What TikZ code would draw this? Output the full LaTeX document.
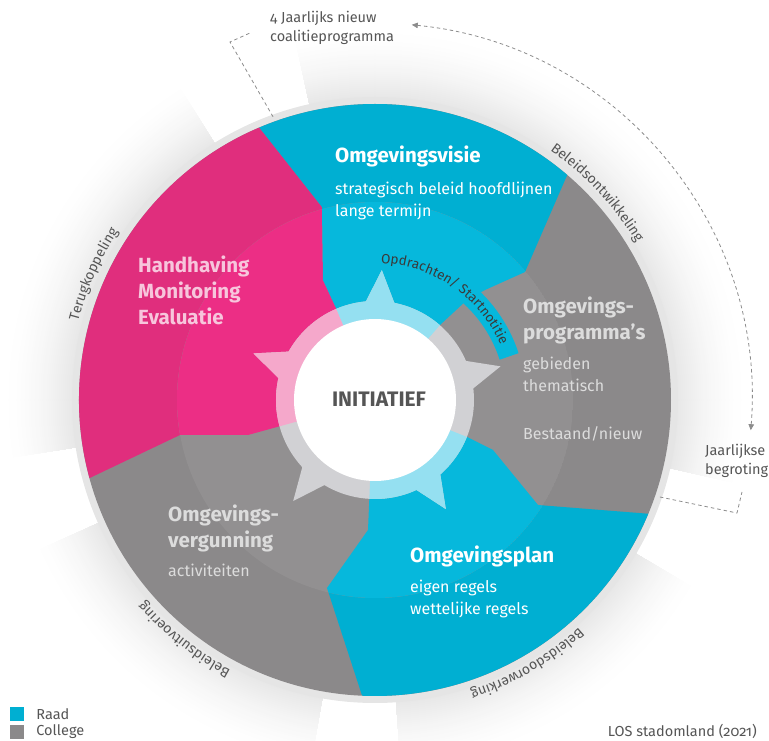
\documentclass[tikz,border=0pt]{standalone}
\usepackage{fontspec}
\setmainfont{Fira Sans}[Numbers=OldStyle]
\usetikzlibrary{arrows.meta,positioning,decorations.text}

\definecolor{raad}{HTML}{00AFD2}
\definecolor{raadin}{HTML}{06B8DC}
\definecolor{raadring}{HTML}{95E0F1}
\definecolor{college}{HTML}{8B898A}
\definecolor{collegein}{HTML}{929091}
\definecolor{collegering}{HTML}{D1D1D4}
\definecolor{hhm}{HTML}{E02E7D}
\definecolor{hhmin}{HTML}{EC2E85}
\definecolor{hhmring}{HTML}{F5A8CB}
\definecolor{hhmtext}{HTML}{F7C6DC}
\definecolor{greytext}{HTML}{DCDCDC}
\definecolor{rimgray}{HTML}{E5E5E5}
\definecolor{shadegray}{HTML}{E8E8E8}
\definecolor{inktext}{HTML}{555555}
\definecolor{darkink}{HTML}{3A3A3A}
\definecolor{dashgray}{HTML}{8C8C8C}

% sectors of the wheel (origin in the centre, 1pt = 1px)
\newcommand{\hhmpart}{(0,0) -- (-98,-27) -- (-127,-35) -- (-195,-35) -- (195.3:296)
  arc[start angle=195.3, end angle=113, radius=296] -- (-53,193) -- (-52,120) -- (-39,92) -- cycle}
\newcommand{\visiepart}{(0,0) -- (-39,92) -- (-52,120) -- (-53,193) -- (113:296)
  arc[start angle=113, end angle=49.5, radius=296] -- (150,128) -- (110,110) -- (92,100) -- (65,75) -- cycle}
\newcommand{\planpart}{(0,0) -- (92,-37) -- (118,-50) -- (163,-105) -- (-22.6:296)
  arc[start angle=-22.6, end angle=-92.5, radius=296] -- (-48,-188) -- (-7,-130) -- (-5,-83) -- cycle}
\newcommand{\starring}{(0,0) circle (99)
  \foreach \ang in {87,15,-57,-129,159} {(\ang-9:97) -- (\ang:130) -- (\ang+9:97) -- cycle}}

\begin{document}
\begin{tikzpicture}[x=1pt, y=1pt,
    secttitle/.style={font=\bfseries\fontsize{20.5}{26}\selectfont, align=left, anchor=base west, inner sep=0pt},
    secttext/.style={font=\fontsize{16}{22}\selectfont, align=left, anchor=base west, inner sep=0pt},
    sidenote/.style={font=\fontsize{14.5}{19}\selectfont, text=inktext, align=left, inner sep=0pt},
    legendbox/.style={minimum size=14pt, inner sep=0pt},
    rimlabel/.style={decorate, decoration={text along path, text align=center, text color=inktext,
      text={|\fontsize{14}{14}\selectfont|#1}}},
    dashline/.style={dashgray, line width=0.8pt, dash pattern=on 3.5pt off 3pt},
    tip/.style={{Triangle[length=6pt,width=5.5pt]}-{Triangle[length=6pt,width=5.5pt]}}
  ]
  \useasboundingbox (-375,-341) rectangle (394,400);

  % shaded bands behind the rim labels
  \foreach \from/\to in {122/189, 204/260, 274/329.5, -13/102.5} {
    \begin{scope}
      \clip (0,0) -- (\from:420) arc[start angle=\from, end angle=\to, radius=420] -- cycle;
      \foreach \i in {0,...,34} {
        \pgfmathtruncatemacro{\pct}{100*(\i/34)^1.6}
        \fill[shadegray!\pct!white] (0,0) circle ({372-2*\i});
      }
    \end{scope}
  }
  \fill[rimgray] (0,0) circle (303);

  % wheel
  \fill[college] (0,0) circle (296);
  \fill[hhm] \hhmpart;
  \fill[raad] \visiepart;
  \fill[raad] \planpart;
  \begin{scope}
    \clip (0,0) circle (198);
    \fill[collegein] (0,0) circle (198);
    \fill[hhmin] \hhmpart;
    \fill[raadin] \visiepart;
    \fill[raadin] \planpart;
  \end{scope}
  \draw[raadin, line width=20pt] (54:141) arc[start angle=54, end angle=18, radius=141];

  % star ring round the initiative
  \fill[collegering] \starring;
  \begin{scope} \clip \hhmpart;   \fill[hhmring] \starring;  \end{scope}
  \begin{scope} \clip \visiepart; \fill[raadring] \starring; \end{scope}
  \begin{scope} \clip \planpart;  \fill[raadring] \starring; \end{scope}
  \fill[white] (0,0) circle (81);
  \node[font=\bfseries\fontsize{21}{21}\selectfont, text=inktext] (init) at (4,1) {INITIATIEF};

  \path[decorate, decoration={text along path, text align=center, text color=darkink,
      text={|\fontsize{13.5}{14}\selectfont|Opdrachten/ Startnotitie}}]
    (96:137) arc[start angle=96, end angle=15, radius=137];

  % sector texts (base = last line)
  \node[secttitle, text=white] (visie) at (-40,237) {Omgevingsvisie};
  \node[secttext, text=white] (visiesub) at (-40,183) {strategisch beleid hoofdlijnen\\lange termijn};
  \node[secttitle, text=hhmtext] (hhm) at (-237,75) {Handhaving\\Monitoring\\Evaluatie};
  \node[secttitle, text=greytext] (prog) at (148,60) {Omgevings-\\programma’s};
  \node[secttext, text=greytext] (progsub) at (148,-40) {gebieden\\thematisch\\[26pt]Bestaand/nieuw};
  \node[secttitle, text=greytext] (verg) at (-207,-148) {Omgevings-\\vergunning};
  \node[secttext, text=greytext] (vergsub) at (-207,-177) {activiteiten};
  \node[secttitle, text=white] (plan) at (35,-163) {Omgevingsplan};
  \node[secttext, text=white] (plansub) at (35,-215) {eigen regels\\wettelijke regels};

  % rim labels
  \path[rimlabel={Terugkoppeling}] (178:307) arc[start angle=178, end angle=134, radius=307];
  \path[rimlabel={Beleidsontwikkeling}] (66:305) arc[start angle=66, end angle=20, radius=305];
  \path[rimlabel={Beleidsuitvoering}] (256:306) arc[start angle=256, end angle=207, radius=306];
  \path[rimlabel={Beleidsdoorwerking}] (-36:306) arc[start angle=-36, end angle=-84, radius=306];

  % notes and dashed links
  \node[sidenote, anchor=west] (coal) at (-105,372) {4 Jaarlijks nieuw\\coalitieprogramma};
  \node[sidenote, anchor=west] (begr) at (330,-61) {Jaarlijkse\\begroting};
  \coordinate (coalfoot) at (109.8:301);
  \coordinate (coalknee) at (-145,358);
  \coordinate (coaltip) at (-125,367);
  \draw[dashline] (coalfoot) -- (coalknee) -- (coaltip);
  \coordinate (cyclestart) at (-4.6:377);
  \draw[dashline, tip] (cyclestart) arc[start angle=-4.6, end angle=84.4, radius=377];
  \coordinate (begrfoot) at (-18.8:301);
  \coordinate (begrknee) at (362,-113);
  \coordinate (begrtip) at (367,-92);
  \draw[dashline] (begrfoot) -- (begrknee) -- (begrtip);

  % legend
  \node[legendbox, fill=raad] (raadbox) at (-358,-314) {};
  \node[legendbox, fill=college] (collegebox) at (-358,-332) {};
  \node[sidenote, right=12pt of raadbox] (raadtxt) {Raad};
  \node[sidenote, right=12pt of collegebox] (collegetxt) {College};
  \node[sidenote, anchor=base east] (source) at (382,-337) {LOS stadomland (2021)};
\end{tikzpicture}
\end{document}
